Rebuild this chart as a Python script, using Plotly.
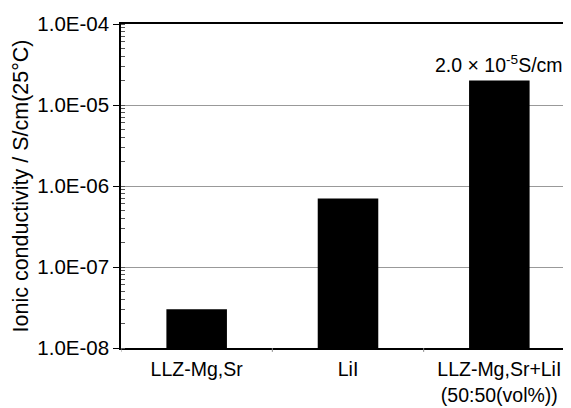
import math
import plotly.graph_objects as go

categories = ["LLZ-Mg,Sr", "LiI", "LLZ-Mg,Sr+LiI<br>(50:50(vol%))"]
conductivity = [3.0e-8, 7.0e-7, 2.0e-5]
y_tick_vals = [1e-8, 1e-7, 1e-6, 1e-5, 1e-4]
y_tick_text = ["1.0E-08", "1.0E-07", "1.0E-06", "1.0E-05", "1.0E-04"]
annotation_text = "2.0 × 10<sup>-5</sup>S/cm"

FONT = "Liberation Sans, Arial, sans-serif"

fig = go.Figure()
fig.add_trace(go.Bar(
    x=list(range(len(categories))),
    y=conductivity,
    width=0.4,
    marker=dict(color="black", line=dict(width=0)),
))

fig.add_annotation(
    x=2, y=math.log10(conductivity[2]), yref="y", xref="x",
    text=annotation_text, showarrow=False,
    yanchor="bottom", yshift=3,
    font=dict(family=FONT, size=19.5, color="black"),
)

# page has an 8px body margin; compensate so the plot area lands where the reference has it
fig.update_layout(
    width=571, height=408,
    margin=dict(l=113, r=4, t=14, b=68),
    plot_bgcolor="white", paper_bgcolor="white",
    showlegend=False,
    font=dict(family=FONT, size=19, color="black"),
)

fig.update_xaxes(
    tickmode="array",
    tickvals=list(range(len(categories))),
    ticktext=categories,
    range=[-0.5, 2.5],
    showline=True, linecolor="black", linewidth=1.5,
    mirror=True,
    ticks="", showgrid=False, zeroline=False,
    ticklabelstandoff=3,
    tickfont=dict(family=FONT, size=19.5, color="black"),
)

fig.update_yaxes(
    type="log",
    range=[-8, -4],
    tickmode="array",
    tickvals=y_tick_vals,
    ticktext=y_tick_text,
    showline=True, linecolor="black", linewidth=1.5,
    ticks="outside", ticklen=6, tickcolor="black", tickwidth=1,
    showgrid=True, gridcolor="#999999", gridwidth=1,
    minor=dict(ticks="inside", ticklen=4, tickcolor="#555555", tickwidth=1,
               showgrid=False, dtick="D1"),
    zeroline=False,
    tickfont=dict(family=FONT, size=20.5, color="black"),
    title=dict(text="Ionic conductivity / S/cm(25°C)",
               font=dict(family=FONT, size=21.5, color="black"), standoff=3),
)

# boundary ticks between categories on bottom axis
for b in [-0.5, 0.5, 1.5]:
    fig.add_shape(type="line", xref="x", yref="paper", x0=b, x1=b, y0=0, y1=-0.012,
                  line=dict(color="#888888", width=1))

fig.write_html("out.html")
